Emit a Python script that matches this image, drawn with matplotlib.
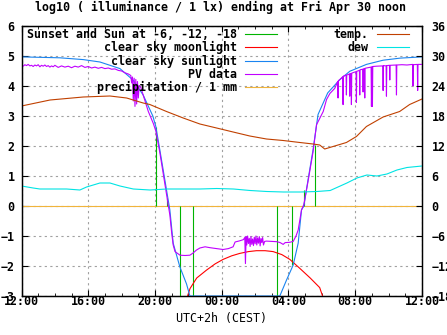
import matplotlib
matplotlib.use("Agg")
import matplotlib.pyplot as plt
from matplotlib.lines import Line2D

# hours since 12:00 (Thu) .. 12:00 (Fri)
tick_hours = [0, 4, 8, 12, 16, 20, 24]
tick_labels = ["12:00", "16:00", "20:00", "00:00", "04:00", "08:00", "12:00"]

# sun events: sunset, -6, -12, -18 (evening and morning)
sun_hours = [8.05, 8.69, 9.47, 10.29, 15.32, 16.21, 16.95, 17.60]
sun_tops = [2.64, 0.28, -3.0, -3.0, -3.0, -1.97, 0.53, 2.04]

# clear sky sunlight
sky_hours = [0.0, 2.3, 3.7, 4.7, 5.9, 6.68, 7.29, 7.87, 8.05, 8.29, 8.59, 8.79, 8.89,
             9.09, 9.49, 9.89, 10.09,
             15.48, 15.88, 16.28, 16.58, 16.78, 16.92, 17.17, 17.47, 17.77, 18.35,
             19.07, 19.67, 20.67, 21.67, 22.7, 24.0]
sky_vals = [4.97, 4.94, 4.88, 4.80, 4.58, 4.20, 3.70, 3.00, 2.65, 1.87, 0.87, 0.20, -0.13,
            -1.24, -2.03, -2.60, -3.0,
            -3.0, -2.47, -1.97, -1.24, -0.13, 0.0, 0.87, 1.87, 3.05, 3.77,
            4.21, 4.49, 4.72, 4.86, 4.93, 4.97]

# clear sky moonlight
moon_hours = [9.95, 10.1, 10.5, 11.08, 11.6, 12.08, 12.6, 13.08, 13.6, 14.08, 14.6, 15.08,
              15.6, 16.08, 16.68, 17.3, 17.87, 18.04]
moon_vals = [-3.0, -2.75, -2.4, -2.14, -1.93, -1.78, -1.66, -1.58, -1.52, -1.49, -1.49, -1.52,
             -1.62, -1.78, -2.08, -2.4, -2.72, -3.0]

# PV data
pv_hours = [0.0, 0.1, 0.2, 0.3, 0.4, 0.5, 0.6, 0.7, 0.8, 0.9, 1.0, 1.1, 1.2, 1.3, 1.4, 1.5,
            1.6, 1.7, 1.8, 1.9, 2.0, 2.2, 2.4, 2.6, 2.8, 3.0, 3.2, 3.4, 3.6, 3.8, 4.0, 4.2,
            4.4, 4.6, 4.8, 5.0, 5.2, 5.4, 5.6, 5.8, 6.0, 6.2, 6.4, 6.55, 6.6, 6.65, 6.7, 6.75,
            6.8, 6.85, 6.9, 6.95, 7.0, 7.05, 7.15, 7.3, 7.45, 7.6, 7.75, 7.9,
            8.05, 8.29, 8.59, 8.79, 8.89, 9.0, 9.09, 9.2, 9.4, 9.5, 9.8, 10.09, 10.3, 10.48,
            10.69, 11.0, 11.3, 11.69, 12.08, 12.4, 12.68, 12.8, 13.08, 13.3,
            13.38, 13.42, 13.46, 13.5, 13.55, 13.6, 13.65, 13.7, 13.75, 13.8, 13.85, 13.9,
            13.95, 14.0, 14.05, 14.1, 14.15, 14.2, 14.25, 14.3, 14.35, 14.4, 14.45, 14.5,
            14.57, 14.68, 15.0, 15.3, 15.5, 15.68, 15.8, 16.08, 16.28, 16.45, 16.58, 16.78,
            16.92, 17.17, 17.47, 17.68, 17.9, 18.08, 18.28, 18.48, 18.77,
            18.95, 18.97, 18.99, 19.07, 19.25, 19.27, 19.29, 19.45, 19.47, 19.49, 19.57,
            19.65, 19.67, 19.69, 19.75, 19.77, 19.79, 19.9, 20.05, 20.07, 20.09, 20.25,
            20.27, 20.29, 20.45, 20.47, 20.49, 20.55, 20.57, 20.59, 20.67, 20.95, 20.97,
            21.0, 21.03, 21.05, 21.27, 21.65, 21.67, 21.69, 21.85, 21.87, 21.89, 22.05,
            22.07, 22.09, 22.45, 22.47, 22.49, 22.8, 23.1, 23.44, 23.46, 23.48, 23.72,
            23.74, 23.76, 24.0]
pv_vals = [4.70, 4.66, 4.71, 4.68, 4.72, 4.67, 4.69, 4.65, 4.70, 4.67, 4.71, 4.64, 4.69,
           4.66, 4.70, 4.65, 4.68, 4.63, 4.67, 4.64, 4.69, 4.62, 4.67, 4.63, 4.66, 4.61,
           4.66, 4.63, 4.68, 4.62, 4.65, 4.60, 4.63, 4.59, 4.62, 4.58, 4.60, 4.56, 4.57,
           4.52, 4.50, 4.44, 4.40, 4.35, 4.10, 4.30, 3.50, 4.26, 3.32, 4.22, 3.40, 4.15,
           3.60, 4.02, 3.95, 3.68, 3.40, 3.15, 2.95, 2.75,
           2.50, 1.78, 0.75, 0.08, -0.30, -0.90, -1.30, -1.52, -1.60, -1.64, -1.65, -1.64,
           -1.56, -1.47, -1.40, -1.36, -1.39, -1.42, -1.45, -1.42, -1.36, -1.20, -1.16,
           -1.12,
           -1.05, -1.92, -1.02, -1.30, -1.00, -1.25, -1.08, -1.35, -1.02, -1.28, -1.10,
           -1.32, -1.04, -1.26, -1.00, -1.30, -1.06, -1.24, -1.02, -1.33, -1.08, -1.22,
           -1.05, -1.30, -1.18, -1.17, -1.18, -1.19, -1.22, -1.28, -1.22, -1.21, -1.18,
           -1.00, -0.80, -0.13,
           0.05, 0.82, 1.80, 2.71, 2.95, 3.15, 3.55, 3.75, 3.92,
           4.15, 3.60, 4.18, 4.21, 4.31, 3.38, 4.33, 4.36, 3.70, 4.37, 4.38,
           4.40, 3.66, 4.41, 4.42, 3.38, 4.43, 4.45, 4.48, 3.45, 4.49, 4.52,
           3.70, 4.54, 4.56, 3.80, 4.57, 4.58, 3.60, 4.59, 4.60, 4.63, 3.32,
           4.64, 3.32, 4.65, 4.66, 4.67, 3.85, 4.68, 4.67, 3.66, 4.68, 4.69,
           4.20, 4.69, 4.70, 3.70, 4.70, 4.71, 4.70, 4.72, 4.00, 4.71, 4.72,
           3.85, 4.72, 4.72]

# temperature and dew point, deg C
temp_hours = [0.0, 1.71, 3.7, 5.3, 6.3, 7.29, 7.69, 8.69, 9.69, 10.69, 11.69, 12.68, 13.68,
              14.68, 15.68, 16.68, 17.47, 17.87, 18.17, 18.67, 19.47, 20.07, 20.67, 21.67,
              22.66, 23.26, 24.0]
temp_vals = [20.0, 21.2, 21.8, 22.0, 21.6, 20.6, 20.3, 18.9, 17.6, 16.4, 15.6, 14.8, 14.0,
             13.4, 13.1, 12.7, 12.4, 12.2, 11.4, 11.9, 12.7, 13.9, 15.9, 17.8, 18.9,
             20.3, 21.4]
dew_hours = [0.0, 0.7, 1.1, 2.7, 3.5, 3.9, 4.7, 5.3, 5.9, 6.7, 7.7, 8.7, 9.7, 10.7, 11.7,
             12.7, 13.7, 14.7, 15.7, 16.7, 17.7, 18.5, 19.5, 20.1, 20.7, 21.3, 21.9, 22.5,
             23.1, 24.0]
dew_vals = [4.0, 3.6, 3.4, 3.4, 3.2, 3.8, 4.6, 4.6, 4.0, 3.4, 3.2, 3.4, 3.4, 3.4, 3.5,
            3.4, 3.1, 2.9, 2.8, 2.8, 2.9, 3.1, 4.6, 5.6, 6.2, 6.0, 6.4, 7.2, 7.7, 8.0]

# precipitation / 1 mm
rain_hours = [0.0, 24.0]
rain_vals = [0.0, 0.0]

c_sun = "#00b400"
c_moon = "#ff0000"
c_sky = "#1a84f0"
c_pv = "#c000ff"
c_rain = "#f0b43c"
c_temp = "#c04000"
c_dew = "#00e4e4"

plt.rcParams["font.family"] = "DejaVu Sans Mono"
plt.rcParams["font.weight"] = "bold"
plt.rcParams["font.size"] = 8.4

fig = plt.figure(figsize=(4.47, 3.35), dpi=100)
ax = fig.add_axes([21.5 / 447, 39.0 / 335, 400.5 / 447, 270.0 / 335])
ax2 = ax.twinx()

lw = 0.8
ax.plot(rain_hours, rain_vals, color=c_rain, lw=lw, zorder=2)
ax2.plot(temp_hours, temp_vals, color=c_temp, lw=lw, zorder=2)
ax2.plot(dew_hours, dew_vals, color=c_dew, lw=lw, zorder=2)
ax.vlines(sun_hours, 0, sun_tops, color=c_sun, lw=lw, zorder=3)
ax.plot(moon_hours, moon_vals, color=c_moon, lw=lw, zorder=3)
ax.plot(sky_hours, sky_vals, color=c_sky, lw=lw, zorder=4)
ax.plot(pv_hours, pv_vals, color=c_pv, lw=lw, zorder=5)

ax.set_xlim(0, 24)
ax.set_ylim(-3, 6)
ax2.set_ylim(-18, 36)
ax.set_xticks(tick_hours)
ax.set_xticklabels(tick_labels)
ax.set_xticks(range(0, 25), minor=True)
ax.set_yticks(range(-3, 7))
ax2.set_yticks(range(-18, 37, 6))
ax.grid(True, color="#a0a0a0", lw=0.8, linestyle=(0, (2, 3)))
ax.tick_params(axis="both", which="both", direction="in", top=True, right=False,
               labelsize=8.4)
ax.tick_params(axis="x", which="major", length=4, pad=-1)
ax.tick_params(axis="x", which="minor", length=2)
ax.tick_params(axis="y", which="major", length=4, pad=5)
ax2.tick_params(axis="y", direction="in", length=4, pad=7, labelsize=8.4)
for a in (ax, ax2):
    for s in a.spines.values():
        s.set_linewidth(0.9)

ax.set_xlabel("UTC+2h (CEST)", fontsize=8.4, labelpad=3)
fig.text(0.4944, 1 - 11.5 / 335, "log10 ( illuminance / 1 lx) ending at Fri Apr 30 noon",
         ha="center", va="baseline", fontsize=8.4)

left_handles = [Line2D([], [], color=c_sun, lw=lw), Line2D([], [], color=c_moon, lw=lw),
                Line2D([], [], color=c_sky, lw=lw), Line2D([], [], color=c_pv, lw=lw),
                Line2D([], [], color=c_rain, lw=lw)]
left_labels = ["Sunset and Sun at -6, -12, -18", "clear sky moonlight",
               "clear sky sunlight", "PV data", "precipitation / 1 mm"]
leg1 = fig.legend(left_handles, left_labels, loc="upper right",
                  bbox_to_anchor=(277 / 447, 1 - 28 / 335), frameon=False, borderpad=0,
                  markerfirst=False, handlelength=2.75, handletextpad=0.7,
                  labelspacing=0.02, fontsize=8.4, borderaxespad=0)
right_handles = [Line2D([], [], color=c_temp, lw=lw), Line2D([], [], color=c_dew, lw=lw)]
leg2 = fig.legend(right_handles, ["temp.", "dew"], loc="upper right",
                  bbox_to_anchor=(409 / 447, 1 - 28 / 335), frameon=False, borderpad=0,
                  markerfirst=False, handlelength=2.75, handletextpad=0.7,
                  labelspacing=0.02, fontsize=8.4, borderaxespad=0)

fig.savefig("out.png", dpi=100)
